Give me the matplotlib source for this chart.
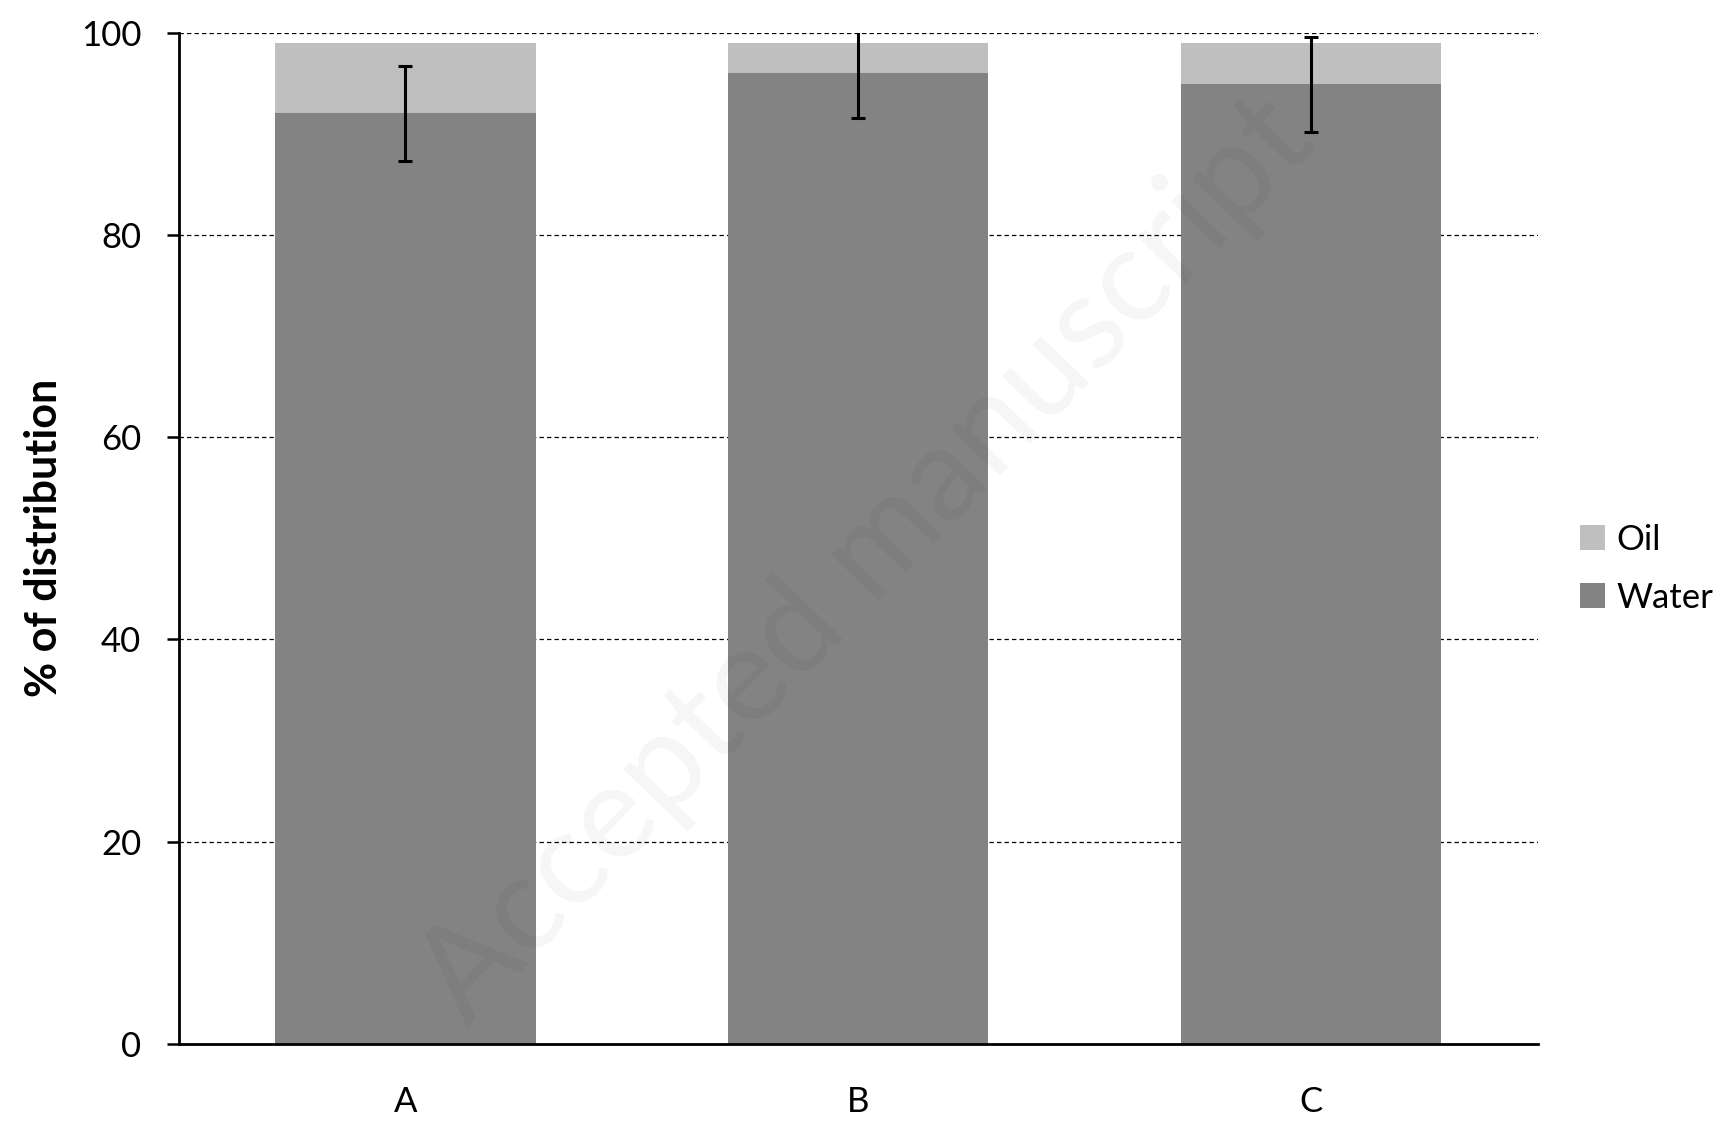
import numpy as np
import matplotlib.pyplot as plt

# values
groups = ['A', 'B', 'C']
water = [92.0, 96.0, 94.9]
oil = [7.0, 3.0, 4.1]
water_err = [4.7, 4.5, 4.7]
yticks = [0, 20, 40, 60, 80, 100]

plt.rcParams['font.family'] = ['Lato', 'DejaVu Sans']

fig = plt.figure(figsize=(17.2, 11.21), dpi=100)
ax = fig.add_axes([0.104, 0.0687, 0.79, 0.9023])

x = np.arange(len(groups))
w = 0.575

ax.bar(x, water, width=w, color='#838383', label='Water', zorder=2)
ax.bar(x, oil, width=w, bottom=water, color='#bfbfbf', label='Oil', zorder=2)
ax.errorbar(x, water, yerr=water_err, fmt='none', ecolor='black',
            elinewidth=2.2, capsize=5, capthick=2.2, zorder=3)

ax.set_xlim(-0.5, 2.5)
ax.set_ylim(0, 100)
ax.set_yticks(yticks)
ax.set_xticks(x)
ax.set_xticklabels(groups)
ax.yaxis.grid(True, linestyle=(0, (3.5, 2.5)), color='black', linewidth=0.9, zorder=0)
ax.set_axisbelow(True)

for s in ['top', 'right']:
    ax.spines[s].set_visible(False)
ax.spines['left'].set_linewidth(2)
ax.spines['bottom'].set_linewidth(2)
ax.spines['left'].set_zorder(4)
ax.spines['bottom'].set_zorder(4)

ax.tick_params(axis='y', length=9, width=1.8, pad=18, labelsize=25)
ax.tick_params(axis='x', length=0, pad=30, labelsize=25)

ax.set_ylabel('% of distribution', fontsize=31, fontweight='bold', labelpad=12)

# watermark
fig.text(0.504, 0.50, 'Accepted manuscript', fontsize=95, color='black', alpha=0.04,
         rotation=46, ha='center', va='center', rotation_mode='anchor')

handles, labels = ax.get_legend_handles_labels()
leg = ax.legend(handles[::-1], labels[::-1], loc='center left', bbox_to_anchor=(1.016, 0.47),
                frameon=False, fontsize=25, handlelength=0.7, handleheight=0.7,
                handletextpad=0.35, labelspacing=0.75, borderaxespad=0.2)

fig.savefig('out.png', dpi=100)
